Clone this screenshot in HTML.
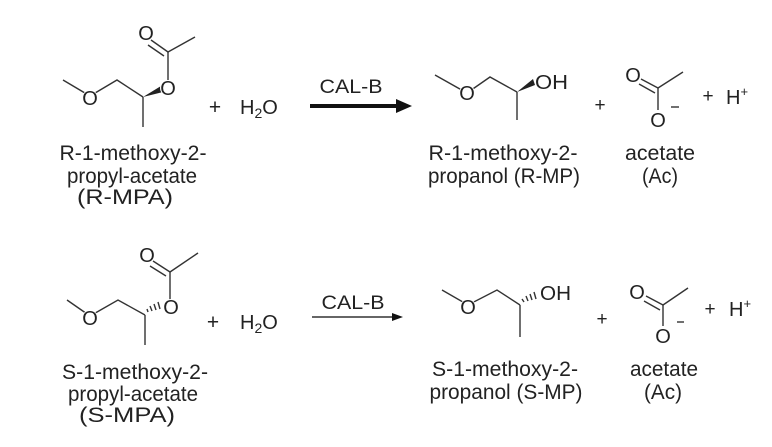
<!DOCTYPE html>
<html><head><meta charset="utf-8"><style>
html,body{margin:0;padding:0;background:#fff;}
svg{display:block;}
text{font-family:"Liberation Sans",Arial,sans-serif;fill:#222;}
.b{stroke:#333;stroke-width:1.4;fill:none;}
.bg{fill:#fff;}
</style></head><body>
<svg width="772" height="447" viewBox="0 0 772 447">
<g font-size="21">
<!-- TOP LEFT R-MPA -->
<polyline class="b" points="63,80 90,96 117,80 143,97"/>
<line class="b" x1="168" y1="84" x2="168" y2="52"/>
<line class="b" x1="168" y1="52" x2="195" y2="37"/>
<line class="b" x1="168" y1="52" x2="151" y2="40"/>
<line class="b" x1="164" y1="56" x2="148" y2="45"/>
<line class="b" x1="143" y1="97" x2="143" y2="127"/>
<polygon points="143,97 161,86 163,92" fill="#222"/>
<circle class="bg" cx="90" cy="98" r="8"/><text x="90" y="105" font-size="20" text-anchor="middle">O</text>
<circle class="bg" cx="168" cy="88" r="8"/><text x="168" y="95" font-size="20" text-anchor="middle">O</text>
<text x="146" y="40" font-size="20" text-anchor="middle">O</text>
<text x="215" y="114" font-size="21" text-anchor="middle">+</text>
<text x="240" y="114" font-size="20">H<tspan font-size="14" dy="4">2</tspan><tspan dy="-4">O</tspan></text>
<text x="133" y="160" text-anchor="middle" textLength="147" lengthAdjust="spacingAndGlyphs">R-1-methoxy-2-</text>
<text x="132" y="183" text-anchor="middle" textLength="130" lengthAdjust="spacingAndGlyphs">propyl-acetate</text>
<text x="125" y="204" text-anchor="middle" textLength="96" lengthAdjust="spacingAndGlyphs">(R-MPA)</text>
<!-- top arrow -->
<line x1="310" y1="106" x2="398" y2="106" stroke="#111" stroke-width="4"/>
<polygon points="412,106 396,99 396,113" fill="#111"/>
<text x="351" y="93" font-size="19" text-anchor="middle" textLength="63" lengthAdjust="spacingAndGlyphs">CAL-B</text>
<!-- TOP RIGHT R-MP -->
<polyline class="b" points="435,75 467,93 490,77 517,92"/>
<line class="b" x1="517" y1="92" x2="517" y2="120"/>
<polygon points="517,92 533,79 535,85" fill="#222"/>
<circle class="bg" cx="467" cy="93" r="8"/><text x="467" y="100" font-size="20" text-anchor="middle">O</text>
<text x="535" y="89" font-size="20" textLength="33" lengthAdjust="spacingAndGlyphs">OH</text>
<text x="600" y="111" font-size="19" text-anchor="middle">+</text>
<line class="b" x1="658" y1="88" x2="683" y2="72"/>
<line class="b" x1="658" y1="88" x2="641" y2="79"/>
<line class="b" x1="655" y1="93" x2="639" y2="84"/>
<line class="b" x1="658" y1="88" x2="658" y2="110"/>
<text x="633" y="82" font-size="20" text-anchor="middle">O</text>
<text x="658" y="127" font-size="20" text-anchor="middle">O</text>
<line x1="671" y1="107" x2="679" y2="107" stroke="#333" stroke-width="1.4"/>
<text x="708" y="102" font-size="19" text-anchor="middle">+</text>
<text x="726" y="104" font-size="20">H<tspan font-size="13" dy="-8">+</tspan></text>
<text x="503" y="160" text-anchor="middle" textLength="149" lengthAdjust="spacingAndGlyphs">R-1-methoxy-2-</text>
<text x="504" y="183" text-anchor="middle" textLength="152" lengthAdjust="spacingAndGlyphs">propanol (R-MP)</text>
<text x="660" y="160" text-anchor="middle" textLength="70" lengthAdjust="spacingAndGlyphs">acetate</text>
<text x="660" y="183" text-anchor="middle" textLength="36" lengthAdjust="spacingAndGlyphs">(Ac)</text>

<!-- BOTTOM LEFT S-MPA -->
<polyline class="b" points="67,300 90,316 118,300 145,315"/>
<line class="b" x1="170" y1="303" x2="170" y2="272"/>
<line class="b" x1="170" y1="272" x2="198" y2="253"/>
<line class="b" x1="170" y1="272" x2="153" y2="261"/>
<line class="b" x1="166" y1="276" x2="150" y2="266"/>
<line class="b" x1="145" y1="315" x2="145" y2="345"/>
<g stroke="#333" stroke-width="1.4">
<line x1="148" y1="312" x2="147" y2="309"/>
<line x1="152" y1="311" x2="150" y2="306"/>
<line x1="156" y1="310" x2="154" y2="304"/>
<line x1="160" y1="309" x2="158" y2="302"/>
</g>
<circle class="bg" cx="90" cy="318" r="8"/><text x="90" y="325" font-size="20" text-anchor="middle">O</text>
<circle class="bg" cx="171" cy="307" r="8"/><text x="171" y="314" font-size="20" text-anchor="middle">O</text>
<text x="147" y="262" font-size="20" text-anchor="middle">O</text>
<text x="213" y="329" font-size="21" text-anchor="middle">+</text>
<text x="240" y="329" font-size="20">H<tspan font-size="14" dy="4">2</tspan><tspan dy="-4">O</tspan></text>
<text x="135" y="379" text-anchor="middle" textLength="146" lengthAdjust="spacingAndGlyphs">S-1-methoxy-2-</text>
<text x="133" y="401" text-anchor="middle" textLength="130" lengthAdjust="spacingAndGlyphs">propyl-acetate</text>
<text x="127" y="422" text-anchor="middle" textLength="96" lengthAdjust="spacingAndGlyphs">(S-MPA)</text>
<!-- bottom arrow -->
<line x1="312" y1="317" x2="395" y2="317" stroke="#333" stroke-width="1.5"/>
<polygon points="403,317 392,313 392,321" fill="#111"/>
<text x="353" y="309" font-size="19" text-anchor="middle" textLength="63" lengthAdjust="spacingAndGlyphs">CAL-B</text>
<!-- BOTTOM RIGHT S-MP -->
<polyline class="b" points="442,290 468,305 497,290 520,305"/>
<line class="b" x1="520" y1="305" x2="520" y2="337"/>
<g stroke="#333" stroke-width="1.4">
<line x1="524" y1="302" x2="522" y2="299"/>
<line x1="528" y1="301" x2="526" y2="296"/>
<line x1="532" y1="300" x2="530" y2="294"/>
<line x1="536" y1="299" x2="534" y2="292"/>
</g>
<circle class="bg" cx="468" cy="307" r="8"/><text x="468" y="314" font-size="20" text-anchor="middle">O</text>
<text x="540" y="300" font-size="20" textLength="31" lengthAdjust="spacingAndGlyphs">OH</text>
<text x="602" y="325" font-size="19" text-anchor="middle">+</text>
<line class="b" x1="663" y1="305" x2="688" y2="288"/>
<line class="b" x1="663" y1="305" x2="646" y2="296"/>
<line class="b" x1="660" y1="310" x2="644" y2="301"/>
<line class="b" x1="663" y1="305" x2="663" y2="326"/>
<text x="637" y="299" font-size="20" text-anchor="middle">O</text>
<text x="663" y="343" font-size="20" text-anchor="middle">O</text>
<line x1="677" y1="322" x2="684" y2="322" stroke="#333" stroke-width="1.4"/>
<text x="710" y="315" font-size="19" text-anchor="middle">+</text>
<text x="729" y="316" font-size="20">H<tspan font-size="13" dy="-8">+</tspan></text>
<text x="505" y="376" text-anchor="middle" textLength="146" lengthAdjust="spacingAndGlyphs">S-1-methoxy-2-</text>
<text x="506" y="399" text-anchor="middle" textLength="153" lengthAdjust="spacingAndGlyphs">propanol (S-MP)</text>
<text x="664" y="376" text-anchor="middle" textLength="68" lengthAdjust="spacingAndGlyphs">acetate</text>
<text x="663" y="399" text-anchor="middle" textLength="38" lengthAdjust="spacingAndGlyphs">(Ac)</text>
</g>
</svg>
</body></html>
